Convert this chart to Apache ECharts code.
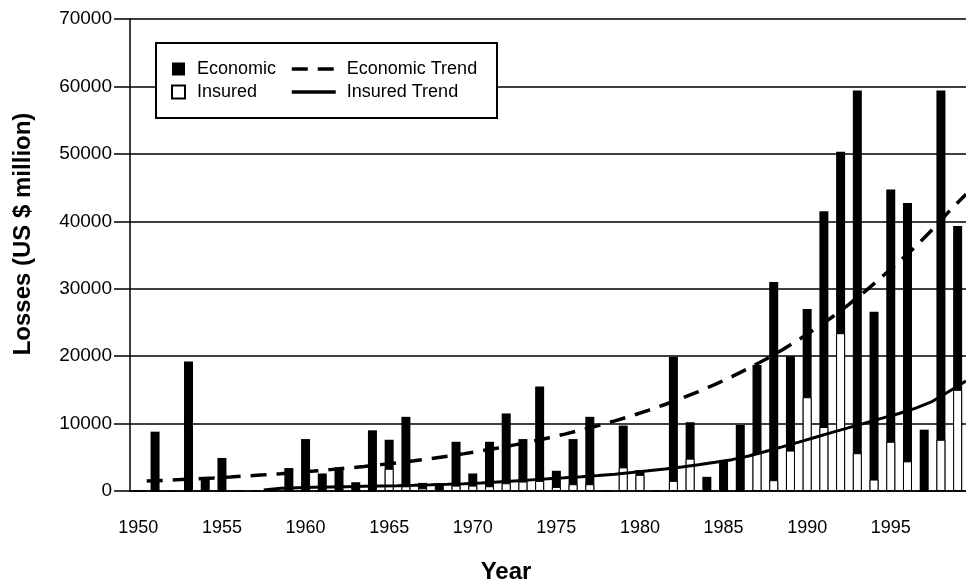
<!DOCTYPE html>
<html lang="en">
<head>
    <meta charset="UTF-8">
    <title>Losses chart</title>
    <script src="https://cdn.jsdelivr.net/npm/echarts@6.0.0/dist/echarts.min.js"></script>
</head>
<body style="margin:0">
    <div id="main" style="width: 966px;height:583px;"></div>
    <script type="text/javascript">
        // one category per year
        const years = ['1950', '1951', '1952', '1953', '1954', '1955', '1956', '1957', '1958', '1959',
            '1960', '1961', '1962', '1963', '1964', '1965', '1966', '1967', '1968', '1969',
            '1970', '1971', '1972', '1973', '1974', '1975', '1976', '1977', '1978', '1979',
            '1980', '1981', '1982', '1983', '1984', '1985', '1986', '1987', '1988', '1989',
            '1990', '1991', '1992', '1993', '1994', '1995', '1996', '1997', '1998', '1999'];

        // losses in US$ million
        const economic = [0, 8800, 0, 19200, 2000, 4900, 0, 0, 0, 3400,
            7700, 2600, 3500, 1300, 9000, 7600, 11000, 1200, 1000, 7300,
            2600, 7300, 11500, 7700, 15500, 3000, 7700, 11000, 0, 9700,
            3100, 0, 19900, 10200, 2100, 4300, 9800, 18700, 31000, 20000,
            27000, 41500, 50300, 59400, 26600, 44700, 42700, 9100, 59400, 39300];
        const insured = [0, 0, 0, 0, 0, 0, 0, 0, 0, 0,
            0, 0, 0, 0, 0, 3300, 700, 400, 300, 800,
            800, 700, 1150, 1400, 1500, 600, 1000, 1000, 0, 3500,
            2400, 0, 1500, 4800, 0, 0, 0, 5600, 1600, 6000,
            13900, 9500, 23400, 5600, 1700, 7300, 4400, 0, 7600, 15000];

        // trend curves are drawn at the year boundaries (start of each year, plus 2000)
        const trendPoints = years.concat(['2000']);
        const economicTrend = [null, 1470, 1575, 1690, 1810, 1940, 2085, 2235, 2395, 2570,
            2755, 2955, 3170, 3400, 3645, 3910, 4190, 4495, 4820, 5170,
            5545, 5945, 6375, 6840, 7335, 7865, 8435, 9045, 9700, 10400,
            11155, 11960, 12830, 13755, 14750, 15820, 16965, 18195, 19510, 20925,
            22440, 24065, 25805, 27675, 29680, 31830, 34000, 36300, 38800, 41500, 44000];
        const insuredTrend = [null, null, null, null, null, null, null, null, 150, 400,
            480, 540, 590, 640, 690, 740, 790, 850, 920, 1000,
            1090, 1190, 1350, 1500, 1650, 1800, 1960, 2130, 2310, 2500,
            2730, 2990, 3270, 3570, 3900, 4260, 4650, 5200, 5850, 6550,
            7250, 7980, 8700, 9400, 10100, 10800, 11500, 12300, 13300, 14800, 16300];

        const yTicks = { min: 0, max: 70000, interval: 10000 };

        const font = "'Liberation Sans', Arial, Helvetica, sans-serif";
        let myChart = echarts.init(document.getElementById('main'));

        let options = {
            animation: false,
            backgroundColor: '#fff',
            textStyle: { fontFamily: font, color: '#000' },
            grid: { left: 130, top: 19, right: -8, bottom: 92 },
            legend: [{
                data: ['Economic', 'Insured'],
                orient: 'vertical',
                left: 171, top: 60,
                padding: 0,
                itemWidth: 13, itemHeight: 13, itemGap: 5,
                icon: 'rect',
                z: 20,
                textStyle: { fontSize: 18, color: '#000', fontFamily: font, padding: [0, 0, 0, 7] }
            }, {
                data: ['Economic Trend', 'Insured Trend'],
                orient: 'vertical',
                left: 290, top: 60,
                padding: 0,
                itemWidth: 44, itemHeight: 13, itemGap: 5,
                itemStyle: { opacity: 0 },
                lineStyle: { width: 3.5 },
                z: 20,
                textStyle: { fontSize: 18, color: '#000', fontFamily: font, padding: [0, 0, 0, 6] }
            }],
            graphic: [
                {
                    type: 'rect', z: 10,
                    shape: { x: 156, y: 43, width: 341, height: 75 },
                    style: { fill: '#fff', stroke: '#000', lineWidth: 2 }
                },
                {
                    type: 'text', z: 10, x: 23, y: 234, rotation: Math.PI / 2,
                    style: {
                        text: 'Losses (US $ million)', fill: '#000',
                        font: 'bold 24px ' + font, align: 'center', verticalAlign: 'middle'
                    }
                },
                {
                    type: 'text', z: 10, x: 506, y: 572,
                    style: {
                        text: 'Year', fill: '#000',
                        font: 'bold 24px ' + font, align: 'center', verticalAlign: 'middle'
                    }
                }
            ],
            xAxis: [{
                type: 'category',
                data: years,
                boundaryGap: true,
                axisLine: { lineStyle: { color: '#000', width: 1.5 } },
                axisTick: { interval: 0, length: 18, lineStyle: { color: '#000', width: 1.5 } },
                axisLabel: { interval: 4, fontSize: 18, color: '#000', margin: 28 },
                splitLine: { show: false }
            }, {
                type: 'category',
                data: trendPoints,
                boundaryGap: false,
                show: false
            }],
            yAxis: {
                type: 'value',
                min: yTicks.min, max: yTicks.max, interval: yTicks.interval,
                axisLine: { show: true, lineStyle: { color: '#000', width: 1.5 } },
                axisTick: { show: true, length: 16, lineStyle: { color: '#000', width: 1.5 } },
                axisLabel: { fontSize: 19, color: '#000', margin: 18, formatter: v => String(v) },
                splitLine: { lineStyle: { color: '#000', width: 1.5 } }
            },
            series: [{
                name: 'Economic',
                type: 'bar',
                data: economic,
                barWidth: 9,
                barGap: '-100%',
                itemStyle: { color: '#000' }
            }, {
                name: 'Insured',
                type: 'bar',
                data: insured,
                barWidth: 9,
                barGap: '-100%',
                itemStyle: { color: '#fff', borderColor: '#000', borderWidth: 1 }
            }, {
                name: 'Economic Trend',
                type: 'line',
                xAxisIndex: 1,
                data: economicTrend,
                symbol: 'none',
                showSymbol: false,
                z: 5,
                lineStyle: { color: '#000', width: 3.5, type: [16, 10] },
                itemStyle: { color: '#000' }
            }, {
                name: 'Insured Trend',
                type: 'line',
                xAxisIndex: 1,
                data: insuredTrend,
                symbol: 'none',
                showSymbol: false,
                z: 5,
                lineStyle: { color: '#000', width: 3 },
                itemStyle: { color: '#000' }
            }]
        };

        myChart.setOption(options);
    </script>
</body>
</html>
